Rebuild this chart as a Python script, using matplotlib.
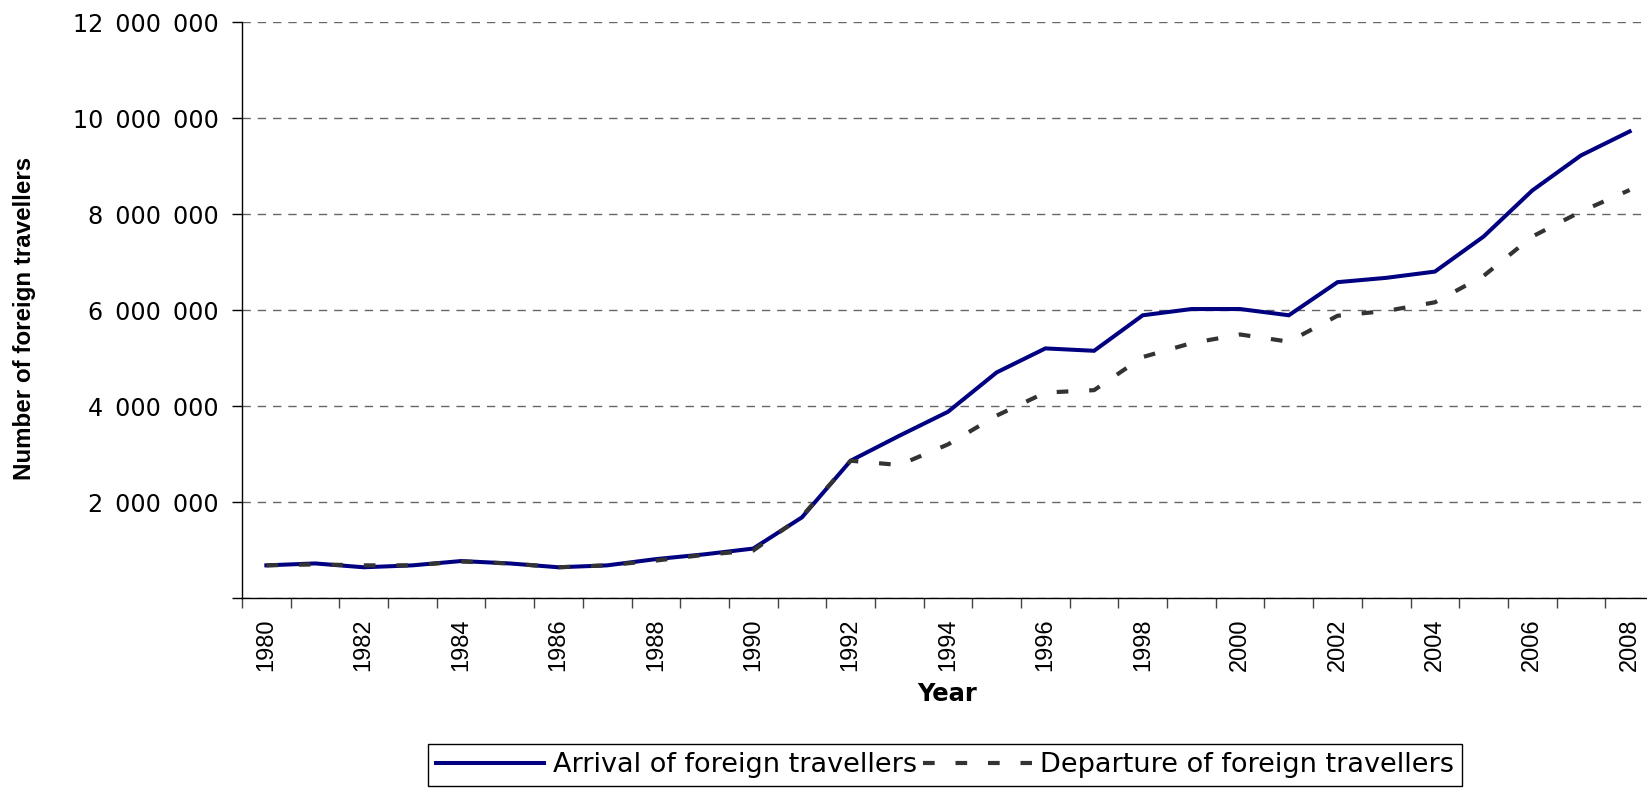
import numpy as np
import matplotlib
matplotlib.use("Agg")
import matplotlib.pyplot as plt
from matplotlib.ticker import FixedLocator, FuncFormatter

plt.rcParams["font.family"] = ["Liberation Sans", "DejaVu Sans"]

# ---- data ----
years = list(range(1980, 2009))
arrival = [680000, 720000, 640000, 680000, 770000, 720000, 640000, 680000,
           810000, 910000, 1030000, 1680000, 2860000, 3380000, 3880000,
           4700000, 5200000, 5150000, 5890000, 6020000, 6020000, 5890000,
           6580000, 6670000, 6800000, 7530000, 8490000, 9220000, 9720000]
departure = [680000, 700000, 680000, 680000, 760000, 720000, 640000, 680000,
             780000, 900000, 990000, 1700000, 2860000, 2770000, 3200000,
             3800000, 4280000, 4330000, 5020000, 5310000, 5490000, 5340000,
             5880000, 5980000, 6160000, 6710000, 7530000, 8050000, 8500000]
y_ticks = [0, 2000000, 4000000, 6000000, 8000000, 10000000, 12000000]
series_labels = ["Arrival of foreign travellers", "Departure of foreign travellers"]
x_title = "Year"
y_title = "Number of foreign travellers"

W, H = 1647, 788
fig = plt.figure(figsize=(W / 100, H / 100), dpi=100)
fig.patch.set_facecolor("white")

left, right, top, bottom = 242, 1654, 22, 598
ax = fig.add_axes([left / W, 1 - bottom / H, (right - left) / W, (bottom - top) / H])

x = np.arange(len(years))
ax.plot(x, arrival, color="#000080", lw=2.9, solid_joinstyle="miter",
        label=series_labels[0], zorder=3)
ax.plot(x, departure, color="#333333", lw=3.0, dashes=(2.8, 5.0),
        dash_capstyle="butt", label=series_labels[1], zorder=4)

ax.set_xlim(-0.5, len(years) - 0.5)
ax.set_ylim(0, 12000000)

for s in ["top", "right"]:
    ax.spines[s].set_visible(False)
for s in ["left", "bottom"]:
    ax.spines[s].set_color("black")
    ax.spines[s].set_linewidth(1.0)

# y axis
ax.yaxis.set_major_locator(FixedLocator(y_ticks))

def fmt(v, pos):
    v = int(round(v))
    if v == 0:
        return ""
    return f"{v:,}".replace(",", "\u2002")

ax.yaxis.set_major_formatter(FuncFormatter(fmt))
ax.tick_params(axis="y", direction="out", length=7, width=1, color="black",
               pad=10, labelsize=17.2)
for t in ax.get_yticklabels():
    t.set_family("DejaVu Sans")

ax.grid(axis="y", color="#666666", lw=1.0, linestyle=(0, (6, 5)))
ax.set_axisbelow(True)

# x axis: boundary ticks (major), labels at every other category (minor)
ax.xaxis.set_major_locator(FixedLocator(np.arange(-0.5, len(years), 1.0)))
ax.xaxis.set_major_formatter(FuncFormatter(lambda v, p: ""))
ax.xaxis.set_minor_locator(FixedLocator(x[::2]))
ax.xaxis.set_minor_formatter(FuncFormatter(lambda v, p: str(years[int(round(v))])))
ax.tick_params(axis="x", which="major", direction="out", length=7, width=1, color="#444444")
ax.tick_params(axis="x", which="minor", length=0, pad=15, labelsize=17, labelrotation=90)

# axis titles
fig.text(947 / W, 1 - 694 / H, x_title, ha="center", va="center",
         fontsize=17.5, fontweight="bold", family="DejaVu Sans")
fig.text(25 / W, 1 - 318 / H, y_title, ha="center", va="center", rotation=90,
         fontsize=17.4, fontweight="bold", family="Liberation Sans")

# legend
leg = fig.legend(loc="upper center", bbox_to_anchor=(945 / W, 1 - 744 / H),
                 ncol=2, frameon=True, fancybox=False, shadow=False,
                 prop={"family": "DejaVu Sans", "size": 19.5},
                 handlelength=4.0, handletextpad=0.3, columnspacing=0.25,
                 borderpad=0.3, borderaxespad=0)
leg.get_frame().set_edgecolor("black")
leg.get_frame().set_linewidth(1.0)
leg.get_frame().set_alpha(1)

fig.savefig("out.png", dpi=100, facecolor="white")
